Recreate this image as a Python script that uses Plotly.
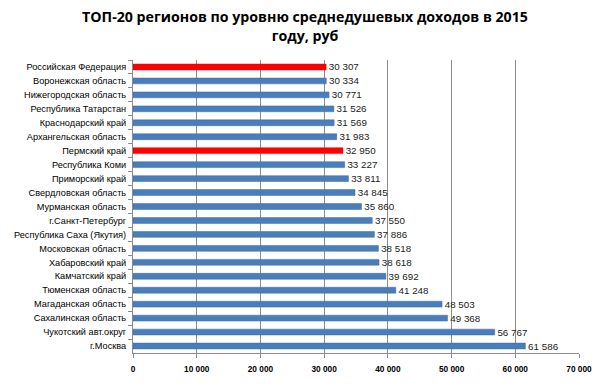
import plotly.graph_objects as go

regions = [
    "Российская Федерация", "Воронежская область", "Нижегородская область",
    "Республика Татарстан", "Краснодарский край", "Архангельская область",
    "Пермский край", "Республика Коми", "Приморский край", "Свердловская область",
    "Мурманская область", "г.Санкт-Петербург", "Республика Саха (Якутия)",
    "Московская область", "Хабаровский край", "Камчатский край",
    "Тюменская область", "Магаданская область", "Сахалинская область",
    "Чукотский авт.округ", "г.Москва",
]
incomes = [30307, 30334, 30771, 31526, 31569, 31983, 32950, 33227, 33811, 34845,
           35860, 37550, 37886, 38518, 38618, 39692, 41248, 48503, 49368, 56767, 61586]
highlight = ["Российская Федерация", "Пермский край"]
x_ticks = [0, 10000, 20000, 30000, 40000, 50000, 60000, 70000]

colors = ["#FF0000" if r in highlight else "#4A7EBB" for r in regions]
line_colors = ["#E00000" if r in highlight else "#3A6AA8" for r in regions]
labels = ["\u00a0" + f"{v:,}".replace(",", " ") for v in incomes]

fig = go.Figure(go.Bar(
    x=incomes, y=regions, orientation="h",
    marker=dict(color=colors, line=dict(color=line_colors, width=0.5)),
    width=0.42,
    text=labels, textposition="outside", constraintext="none",
    textfont=dict(family="Liberation Sans", size=9.8, color="#222222"),
    cliponaxis=False,
))

fig.update_layout(
    width=604, height=384,
    margin=dict(l=133, r=25, t=60, b=31, autoexpand=False),
    paper_bgcolor="white", plot_bgcolor="white",
    title=dict(
        text="<b>ТОП-20 регионов по уровню среднедушевых доходов в 2015<br>году, руб</b>",
        x=0.505, xanchor="center", y=0.942, yanchor="top",
        font=dict(family="Open Sans", size=14.2, color="#000000"),
    ),
    showlegend=False,
)
fig.update_xaxes(
    range=[0, 70000], tickvals=x_ticks,
    ticktext=[f"{v:,}".replace(",", " ") for v in x_ticks],
    showgrid=True, gridcolor="#8C8C8C", gridwidth=1,
    showline=True, linecolor="#8C8C8C", linewidth=1,
    ticks="outside", ticklen=4, tickcolor="#8C8C8C", ticklabelstandoff=4,
    tickfont=dict(family="Liberation Sans", size=8.3, color="#000000", weight="bold"),
    zeroline=False, automargin=False,
)
fig.update_yaxes(
    autorange="reversed",
    showline=True, linecolor="#8C8C8C", linewidth=1,
    ticks="outside", ticklen=4, tickcolor="#8C8C8C", tickson="boundaries",
    ticklabelstandoff=4,
    tickfont=dict(family="Liberation Sans", size=9.2, color="#000000"),
    showgrid=False, automargin=False,
)

fig.write_html(
    "out.html",
    config={"displayModeBar": False},
    post_script="document.body.style.margin='0';document.body.style.padding='0';",
)
